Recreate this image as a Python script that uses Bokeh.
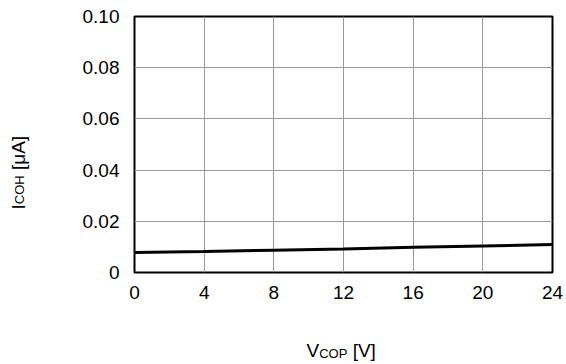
from bokeh.plotting import figure
from bokeh.models import FixedTicker, Range1d, LinearAxis
from bokeh.embed import file_html
from bokeh.resources import INLINE

# Data
vcop = [0, 4, 8, 12, 16, 20, 24]
icoh = [0.0078, 0.0082, 0.0087, 0.0092, 0.0099, 0.0104, 0.0109]
x_ticks = [0, 4, 8, 12, 16, 20, 24]
y_ticks = [0, 0.02, 0.04, 0.06, 0.08, 0.10]
y_tick_labels = ["0", "0.02", "0.04", "0.06", "0.08", "0.10"]
x_title = ["V", "COP", "[V]"]
y_title = ["I", "COH", "[μA]"]

FONT = "Liberation Sans"
FS = 19
SUB = 13

W, H = 566, 364
LB, RB, TB, BB = 134, 14, 16, 92
XMAX, YMAX = 24, 0.1
p = figure(width=W, height=H, x_range=Range1d(0, XMAX), y_range=Range1d(0, YMAX),
           output_backend="svg", toolbar_location=None,
           min_border_left=LB, min_border_right=RB, min_border_top=TB, min_border_bottom=BB)

p.line(vcop, icoh, line_color="black", line_width=3)

p.outline_line_color = "black"
p.outline_line_width = 2
p.outline_line_alpha = 1


def style(ax, size, standoff):
    ax.axis_line_color = None
    ax.major_tick_line_color = None
    ax.minor_tick_line_color = None
    ax.major_label_text_font = FONT
    ax.major_label_text_font_size = f"{size}px"
    ax.major_label_text_color = "black"
    ax.major_tick_out = 0
    ax.major_tick_in = 0
    ax.major_label_standoff = standoff


style(p.xaxis[0], FS, 13)
style(p.yaxis[0], FS, 15)
p.xaxis.ticker = FixedTicker(ticks=x_ticks)
p.yaxis.ticker = FixedTicker(ticks=y_ticks)
p.yaxis.major_label_overrides = {t: l for t, l in zip(y_ticks, y_tick_labels)}

p.xgrid.ticker = FixedTicker(ticks=x_ticks)
p.ygrid.ticker = FixedTicker(ticks=y_ticks)
p.grid.grid_line_color = "#999999"
p.grid.grid_line_width = 1

# frame in canvas pixels
FX0, FX1, FY0, FY1 = LB, W - RB, TB, H - BB
def dx(px):
    return (px - FX0) / (FX1 - FX0) * XMAX
def dy(py):
    return (FY1 - py) / (FY1 - FY0) * YMAX

# ---- x-axis title  V_COP [V]  (built from axes so that it is not clipped)
xs = 306.0
w_v = 0.667 * FS
w_cop = 2.167 * SUB
w_sp = 0.278 * FS
w_b = (0.278 + 0.667 + 0.278) * FS
c_v = dx(xs + w_v / 2)
c_cop = dx(xs + w_v + w_cop / 2)
c_b = dx(xs + w_v + w_cop + w_sp + w_b / 2)

ax_v = LinearAxis(ticker=FixedTicker(ticks=[c_v, c_b]),
                  major_label_overrides={c_v: x_title[0], c_b: x_title[2]})
style(ax_v, FS, 38)
p.add_layout(ax_v, "below")
ax_cop = LinearAxis(ticker=FixedTicker(ticks=[c_cop]),
                    major_label_overrides={c_cop: x_title[1]})
style(ax_cop, SUB, -18)
p.add_layout(ax_cop, "below")

# ---- y-axis title  I_COH [μA]  (vertical)
ys = 209.0
h_i = 0.278 * FS
h_coh = 2.222 * SUB
h_b = (0.278 + 0.576 + 0.667 + 0.278) * FS
c_i = dy(ys - h_i / 2)
c_coh = dy(ys - h_i - h_coh / 2)
c_ua = dy(ys - h_i - h_coh - w_sp - h_b / 2)

ax_i = LinearAxis(ticker=FixedTicker(ticks=[c_i, c_ua]),
                  major_label_overrides={c_i: y_title[0], c_ua: y_title[2]},
                  major_label_orientation="vertical")
style(ax_i, FS, 50)
p.add_layout(ax_i, "left")
ax_coh = LinearAxis(ticker=FixedTicker(ticks=[c_coh]),
                    major_label_overrides={c_coh: y_title[1]},
                    major_label_orientation="vertical")
style(ax_coh, SUB, -22)
p.add_layout(ax_coh, "left")

open("out.html", "w").write(file_html(p, INLINE))
